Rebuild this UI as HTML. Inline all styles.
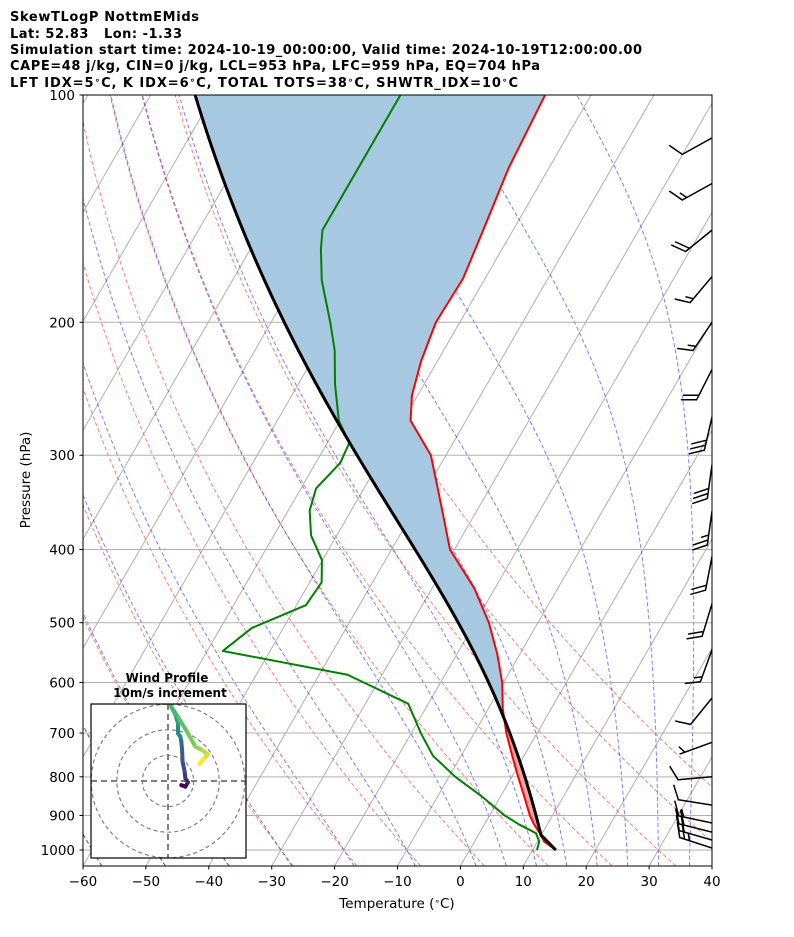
<!DOCTYPE html>
<html><head><meta charset="utf-8"><style>
html,body{margin:0;padding:0;background:#fff;}
svg{display:block;font-family:"DejaVu Sans","Liberation Sans",sans-serif;}
</style></head><body>
<svg id="chart" width="794" height="937" viewBox="0 0 794 937" xmlns="http://www.w3.org/2000/svg">
<defs>
<clipPath id="plotclip"><rect x="83" y="95" width="629" height="771"/></clipPath>
<clipPath id="hodoclip"><rect x="91" y="704" width="155" height="154"/></clipPath>
</defs>
<g font-weight="bold" font-size="13" fill="#000">
<text x="10" y="21" textLength="189">SkewTLogP NottmEMids</text>
<text x="10" y="38" xml:space="preserve" textLength="172">Lat: 52.83   Lon: -1.33</text>
<text x="10" y="54" textLength="632">Simulation start time: 2024-10-19_00:00:00, Valid time: 2024-10-19T12:00:00.00</text>
<text x="10" y="70" textLength="530">CAPE=48 j/kg, CIN=0 j/kg, LCL=953 hPa, LFC=959 hPa, EQ=704 hPa</text>
<text x="10" y="87" textLength="508">LFT IDX=5<tspan font-size="9" dy="-4">∘</tspan><tspan dy="4">C, K IDX=6</tspan><tspan font-size="9" dy="-4">∘</tspan><tspan dy="4">C, TOTAL TOTS=38</tspan><tspan font-size="9" dy="-4">∘</tspan><tspan dy="4">C, SHWTR_IDX=10</tspan><tspan font-size="9" dy="-4">∘</tspan><tspan dy="4">C</tspan></text>
</g>
<g id="plot" clip-path="url(#plotclip)"></g>
<g id="hodo"></g>
<rect x="83" y="95" width="629" height="771" fill="none" stroke="#000" stroke-width="1"/>
<g id="axes" font-size="13.5" fill="#000"></g>
<text x="397" y="908" text-anchor="middle" font-size="13.5">Temperature (<tspan font-size="9" dy="-4">∘</tspan><tspan dy="4">C)</tspan></text>
<text transform="translate(30,480) rotate(-90)" text-anchor="middle" font-size="13.5">Pressure (hPa)</text>
</svg>
<script>
// ---- data ----
const tempP = [1000,975,950,925,900,850,800,750,700,650,600,550,500,450,400,350,300,270,250,225,200,175,150,125,100];
const tempT = [13.7,11.1,9.6,7.9,6.4,3.8,1.0,-1.9,-4.9,-7.7,-10.2,-13.6,-17.8,-23.3,-30.7,-36.1,-42.4,-48.8,-50.9,-52.6,-53.8,-53.5,-54.8,-56.4,-57.3];
const dewP = [1000,975,950,925,900,850,800,750,700,640,586,545,508,474,442,413,383,355,332,307,289,270,242,218,200,176,160,151,100];
const dewT = [10.7,10.3,9.0,5.5,2.4,-2.9,-9.0,-14.5,-18.5,-23.2,-35.5,-57.5,-55.0,-48.5,-48.1,-50.1,-54.1,-56.6,-57.6,-56.1,-56.5,-60.2,-64.1,-67.3,-70.6,-75.8,-78.8,-80.3,-80.3];
const barbP = [114,131,151,174,200,231,267,309,356,409,472,543,629,720,800,872,921,947,970,994];
const barbDir = [241,241,231,220,214,207,193,188,188,191,197,200,219,250,265,279,282,284,286,288];
const barbSpd = [10,15,20,15,15,20,30,30,25,20,20,15,10,5,10,10,15,20,20,25];
const hodoU = [5.2,6.8,7.8,6.8,6.5,5.7,5.5,5.2,4.8,3.9,3.9,2.9,0.9,4.2,7.4,10.7,13.3,15.6,13.9,12.2];
const hodoV = [-1.6,-2.2,-0.5,1.0,3.6,7.6,12.1,15.4,17.3,18.6,22.5,25.8,29.7,24.5,19.3,13.4,12.1,10.4,8.6,6.6];
const xTicks = [-60,-50,-40,-30,-20,-10,0,10,20,30,40];
const pTicks = [100,200,300,400,500,600,700,800,900,1000];
const moistT0 = [-60,-50,-40,-30,-20,-10,0,5,10,15,20,25,30,35,40];

// ---- axes ----
const NS = 'http://www.w3.org/2000/svg';
const yP = p => 850 + 327.9*Math.log(p/1000);
const xTY = (T,y) => 83 + (T+60)*6.29 + (866-y)*0.57735;
const xTP = (T,p) => xTY(T, yP(p));
function mk(tag, attrs, parent){const e=document.createElementNS(NS,tag);for(const k in attrs)e.setAttribute(k,attrs[k]);parent.appendChild(e);return e;}
function pathD(pts){return pts.map((q,i)=>(i?'L':'M')+q[0].toFixed(2)+','+q[1].toFixed(2)).join('');}
const plot=document.getElementById('plot');
const axes=document.getElementById('axes');
const hodo=document.getElementById('hodo');

// thermo
const Rd=287.04, cp=1005.7, Lv=2.501e6, eps=0.622;
const es=T=>6.112*Math.exp(17.67*T/(T+243.5));
function moistGrad(p,T){const Tk=T+273.15;const e=es(T);const rs=eps*e/(p-e);return (Rd*Tk+Lv*rs)/(p*(cp+Lv*Lv*rs*eps/(Rd*Tk*Tk)));}
function moistLine(t0,p0,p1,dp){const out=[[p0,t0]];let p=p0,T=t0;const s=p1<p0?-dp:dp;while((s<0&&p>p1)||(s>0&&p<p1)){const k1=moistGrad(p,T);const k2=moistGrad(p+s/2,T+k1*s/2);T+=k2*s;p+=s;out.push([p,T]);}return out;}

// isotherms
const gIso=mk('g',{},plot);
for(let T=-200;T<=40;T+=10){mk('line',{x1:xTY(T,866),y1:866,x2:xTY(T,95),y2:95,stroke:'#b0b0b0','stroke-width':1},gIso);}
// dry adiabats
const gDry=mk('g',{},plot);
for(let t0=-60;t0<=50;t0+=10){const pts=[];for(let p=1050;p>=100;p-=10){const T=(t0+273.15)*Math.pow(p/1000,0.2857)-273.15;pts.push([xTP(T,p),yP(p)]);}
mk('path',{d:pathD(pts),fill:'none',stroke:'#ff0000','stroke-opacity':0.5,'stroke-width':1,'stroke-dasharray':'4,2.5'},gDry);}
// moist adiabats
const gMoist=mk('g',{},plot);
moistT0.forEach(t0=>{const up=moistLine(t0,1000,100,5);const dn=moistLine(t0,1000,1050,5);const pts=dn.reverse().concat(up.slice(1)).map(q=>[xTP(q[1],q[0]),yP(q[0])]);
mk('path',{d:pathD(pts),fill:'none',stroke:'#0000ff','stroke-opacity':0.5,'stroke-width':1,'stroke-dasharray':'4,2.5'},gMoist);});
// horizontal grid
const gGrid=mk('g',{},plot);
pTicks.forEach(p=>mk('line',{x1:83,x2:712,y1:yP(p),y2:yP(p),stroke:'#b0b0b0','stroke-width':1},gGrid));

// parcel
const parcel=[];
(function(){const p0=tempP[0],T0=tempT[0],Td0=dewT[0];const e0=es(Td0);const w=eps*e0/(p0-e0);
let p=p0,T=T0;while(p>100){T=(T0+273.15)*Math.pow(p/p0,0.2857)-273.15;const e=p*w/(eps+w);const l=Math.log(e/6.112);const Td=243.5*l/(17.67-l);parcel.push([p,T]);if(T<=Td)break;p-=1;}
const m=moistLine(T,p,100,2);m.slice(1).forEach(q=>parcel.push(q));})();
const parcelPts=parcel.map(q=>[xTP(q[1],q[0]),yP(q[0])]);
const tempPts=tempP.map((p,i)=>[xTP(tempT[i],p),yP(p)]);
const dewPts=dewP.map((p,i)=>[xTP(dewT[i],p),yP(p)]);

// shading
const defs=document.querySelector('defs');
const cl=mk('clipPath',{id:'leftOfTemp'},defs);
mk('path',{d:pathD(tempPts.concat([[-2000,tempPts[tempPts.length-1][1]],[-2000,tempPts[0][1]]]))+'Z'},cl);
const cr=mk('clipPath',{id:'rightOfTemp'},defs);
mk('path',{d:pathD(tempPts.concat([[3000,tempPts[tempPts.length-1][1]],[3000,tempPts[0][1]]]))+'Z'},cr);
const between=pathD(parcelPts.concat(tempPts.slice().reverse()))+'Z';
const cin=mk('path',{d:between,fill:'rgb(166,201,225)','clip-path':'url(#leftOfTemp)'},plot);


const cape=mk('path',{d:between,fill:'rgb(239,169,169)','clip-path':'url(#rightOfTemp)'},plot);



const tl=mk('path',{d:pathD(tempPts),fill:'none',stroke:'#ff0000','stroke-width':2,'stroke-linejoin':'round'},plot);


const dl=mk('path',{d:pathD(dewPts),fill:'none',stroke:'#008000','stroke-width':2,'stroke-linejoin':'round'},plot);


const pl=mk('path',{d:pathD(parcelPts),fill:'none',stroke:'#000','stroke-width':3,'stroke-linejoin':'round'},plot);



// wind barbs
const gB=mk('g',{stroke:'#000','stroke-width':1.5,fill:'none','stroke-linecap':'round'},plot);
barbP.forEach((p,i)=>{const L=34;const d=barbDir[i]*Math.PI/180;const ax=Math.sin(d),ay=-Math.cos(d);const px=-ay,py=ax;
const x0=712,y0=yP(p);const tx=x0+ax*L,ty=y0+ay*L;let s='M'+x0+','+y0.toFixed(1)+'L'+tx.toFixed(1)+','+ty.toFixed(1);
let spd=barbSpd[i];let full=Math.floor(spd/10);let half=(spd%10)>=5?1:0;let pos=0;if(full===0&&half)pos=0.15;
for(let k=0;k<full;k++){const bx=x0+ax*L*(1-pos),by=y0+ay*L*(1-pos);s+='M'+bx.toFixed(1)+','+by.toFixed(1)+'l'+(px*0.4*L+ax*0.2*L).toFixed(1)+','+(py*0.4*L+ay*0.2*L).toFixed(1);pos+=0.15;}
if(half){const bx=x0+ax*L*(1-pos),by=y0+ay*L*(1-pos);s+='M'+bx.toFixed(1)+','+by.toFixed(1)+'l'+(px*0.2*L+ax*0.1*L).toFixed(1)+','+(py*0.2*L+ay*0.1*L).toFixed(1);}
const b=mk('path',{d:s},gB);

});

// ticks
xTicks.forEach(T=>{const x=83+(T+60)*6.29;mk('line',{x1:x,x2:x,y1:866,y2:869.5,stroke:'#000'},axes);
const t=mk('text',{x:x,y:886,'text-anchor':'middle'},axes);t.textContent=(T<0?'\u2212':'')+Math.abs(T);

});
pTicks.forEach(p=>{const y=yP(p);mk('line',{x1:79.5,x2:83,y1:y,y2:y,stroke:'#000'},axes);
const t=mk('text',{x:75,y:y+5,'text-anchor':'end'},axes);t.textContent=p;

});

// hodograph
const hc=[168,781],hs=2.56;
mk('rect',{x:91,y:704,width:155,height:154,fill:'#fff'},hodo);
const hg=mk('g',{'clip-path':'url(#hodoclip)'},hodo);
[10,20,30].forEach(r=>mk('circle',{cx:hc[0],cy:hc[1],r:r*hs,fill:'none',stroke:'#808080','stroke-width':1.2,'stroke-dasharray':'4,3'},hg));
mk('line',{x1:91,x2:246,y1:hc[1],y2:hc[1],stroke:'#808080','stroke-width':2,'stroke-dasharray':'6,4'},hg);
mk('line',{x1:hc[0],x2:hc[0],y1:704,y2:858,stroke:'#808080','stroke-width':2,'stroke-dasharray':'6,4'},hg);
const vir=[[68,1,84],[59,82,139],[33,145,140],[94,201,98],[253,231,37]];
function cmap(f){const s=f*4;const i=Math.min(3,Math.floor(s));const r=s-i;const a=vir[i],b=vir[i+1];return 'rgb('+a.map((v,k)=>Math.round(v+(b[k]-v)*r)).join(',')+')';}
for(let i=0;i<hodoU.length-1;i++){const seg=mk('line',{x1:hc[0]+hodoU[i]*hs,y1:hc[1]-hodoV[i]*hs,x2:hc[0]+hodoU[i+1]*hs,y2:hc[1]-hodoV[i+1]*hs,stroke:cmap(i/(hodoU.length-2)),'stroke-width':4,'stroke-linecap':'round'},hg);

}
mk('rect',{x:91,y:704,width:155,height:154,fill:'none',stroke:'#000','stroke-width':1.2},hodo);
const ht1=mk('text',{x:167,y:682,'text-anchor':'middle','font-weight':'bold','font-size':12},hodo);ht1.textContent='Wind Profile';


const ht2=mk('text',{x:170,y:697,'text-anchor':'middle','font-weight':'bold','font-size':12},hodo);ht2.textContent='10m/s increment';


</script>
</body></html>
